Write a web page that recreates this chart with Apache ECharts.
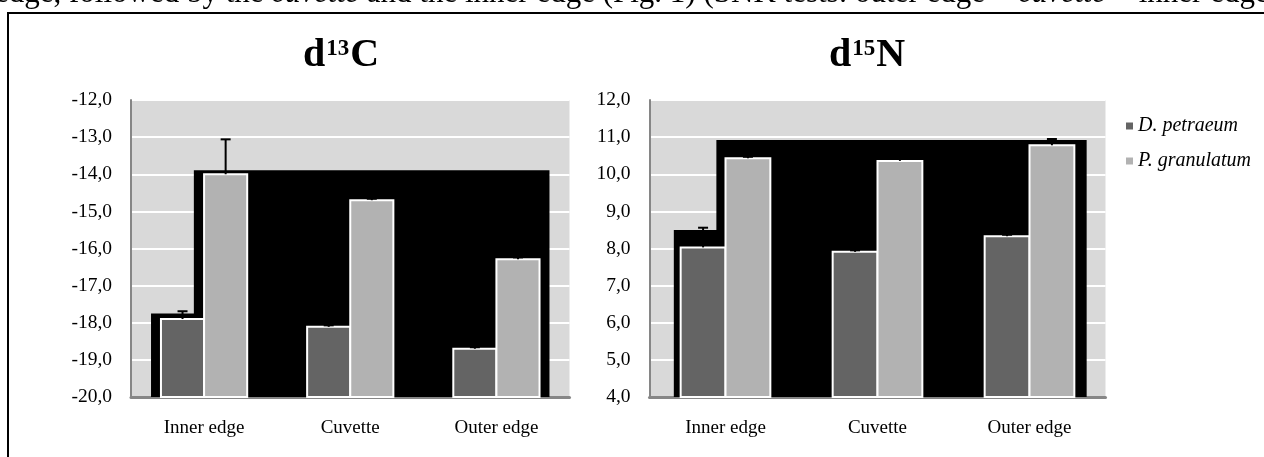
<!DOCTYPE html>
<html>
<head>
<meta charset="utf-8">
<script src="https://cdn.jsdelivr.net/npm/echarts@6/dist/echarts.min.js"></script>
<style>
  html, body { margin: 0; padding: 0; background: #ffffff; }
  #chart { width: 1264px; height: 457px; }
</style>
</head>
<body>
<div id="chart"></div>
<script>
// Sampling sites and species
const categories = ['Inner edge', 'Cuvette', 'Outer edge'];
const speciesNames = ['D. petraeum', 'P. granulatum'];

// d13C: means and upper error bars
const c13Petraeum = [-17.90, -18.11, -18.70];
const c13PetraeumErr = [0.21, 0.04, 0.04];
const c13Granulatum = [-14.00, -14.70, -16.29];
const c13GranulatumErr = [0.94, 0.04, 0.05];

// d15N: means and upper error bars
const n15Petraeum = [8.03, 7.91, 8.33];
const n15PetraeumErr = [0.53, 0.04, 0.04];
const n15Granulatum = [10.43, 10.36, 10.78];
const n15GranulatumErr = [0.04, 0.05, 0.17];

// Value axis ranges: [min, max, step]
const c13Axis = [-20, -12, 1];
const n15Axis = [4, 12, 1];

// Dark backdrop outline behind each bar block: [category position, value]
const c13Backdrop = [[-0.363, -17.75], [-0.07, -17.75], [-0.07, -13.89], [2.363, -13.89]];
const n15Backdrop = [[-0.34, 8.50], [-0.06, 8.50], [-0.06, 10.92], [2.376, 10.92]];

const SERIF = '"Liberation Serif", "Times New Roman", serif';
const DARK = '#646464';
const LIGHT = '#b2b2b2';
const BAR_SHARE = 0.295;

const fmt = v => v.toFixed(1).replace('.', ',');

function barSeries(name, means, errs, color, side, gridIndex) {
  return {
    type: 'custom',
    name: name,
    xAxisIndex: gridIndex * 2,
    yAxisIndex: gridIndex,
    itemStyle: { color: color },
    encode: { x: 0, y: 1 },
    z: 4,
    data: means.map((m, i) => [i, m, errs[i]]),
    renderItem: function (params, api) {
      const idx = api.value(0);
      const mean = api.value(1);
      const err = api.value(2);
      const top = api.coord([idx, mean]);
      const band = api.size([1, 0])[0];
      const w = band * BAR_SHARE;
      const x0 = side < 0 ? top[0] - w : top[0];
      const bottom = params.coordSys.y + params.coordSys.height;
      const errTop = api.coord([idx, mean + err])[1];
      const cx = x0 + w / 2;
      return {
        type: 'group',
        children: [
          { type: 'rect', shape: { x: x0, y: top[1], width: w, height: bottom - top[1] },
            style: { fill: color, stroke: '#ffffff', lineWidth: 2 } },
          { type: 'line', shape: { x1: cx, y1: top[1], x2: cx, y2: errTop },
            style: { stroke: '#000000', lineWidth: 2 } },
          { type: 'line', shape: { x1: cx - 5, y1: errTop, x2: cx + 5, y2: errTop },
            style: { stroke: '#000000', lineWidth: 2 } }
        ]
      };
    }
  };
}

function backdropSeries(points, gridIndex) {
  return {
    type: 'line',
    xAxisIndex: gridIndex * 2 + 1,
    yAxisIndex: gridIndex,
    data: points,
    symbol: 'none',
    silent: true,
    z: 1,
    lineStyle: { width: 0, color: '#000000' },
    areaStyle: { color: '#000000', opacity: 1, origin: 'start' }
  };
}

function valueAxis(range, gridIndex) {
  return {
    type: 'value',
    gridIndex: gridIndex,
    min: range[0],
    max: range[1],
    interval: range[2],
    axisLine: { show: true, onZero: false, lineStyle: { color: '#868686', width: 2 } },
    axisTick: { show: false },
    splitLine: { show: true, lineStyle: { color: '#ffffff', width: 2 } },
    axisLabel: {
      margin: 19,
      formatter: fmt,
      fontFamily: SERIF,
      fontSize: 19.5,
      color: '#000000'
    }
  };
}

function categoryAxis(gridIndex) {
  return {
    type: 'category',
    gridIndex: gridIndex,
    data: categories,
    axisLine: { show: true, onZero: false, lineStyle: { color: '#868686', width: 3 } },
    axisTick: { show: false },
    axisLabel: { margin: 22, fontFamily: SERIF, fontSize: 19, color: '#000000' }
  };
}

function positionAxis(gridIndex) {
  return {
    type: 'value',
    gridIndex: gridIndex,
    min: -0.5,
    max: 2.5,
    show: false,
    axisLine: { show: false, onZero: false }
  };
}

const titleRich = {
  b: { fontFamily: SERIF, fontWeight: 'bold', fontSize: 40, color: '#000000' },
  s: { fontFamily: SERIF, fontWeight: 'bold', fontSize: 23, color: '#000000', padding: [0, 1, 14, 1] }
};

const option = {
  animation: false,
  backgroundColor: '#ffffff',
  title: [
    { text: '{b|d}{s|13}{b|C}', left: 298, top: 31, textStyle: { rich: titleRich } },
    { text: '{b|d}{s|15}{b|N}', left: 824, top: 31, textStyle: { rich: titleRich } }
  ],
  legend: {
    orient: 'vertical',
    left: 1121,
    top: 111,
    itemWidth: 7,
    itemHeight: 7,
    itemGap: 15,
    data: speciesNames.map(n => ({ name: n, icon: 'rect' })),
    textStyle: { fontFamily: SERIF, fontStyle: 'italic', fontSize: 20, color: '#000000' }
  },
  grid: [
    { left: 131, right: 694.5, top: 100, bottom: 60, show: true, backgroundColor: '#d9d9d9', borderWidth: 0 },
    { left: 649.5, right: 158.5, top: 100, bottom: 60, show: true, backgroundColor: '#d9d9d9', borderWidth: 0 }
  ],
  xAxis: [categoryAxis(0), positionAxis(0), categoryAxis(1), positionAxis(1)],
  yAxis: [valueAxis(c13Axis, 0), valueAxis(n15Axis, 1)],
  series: [
    backdropSeries(c13Backdrop, 0),
    backdropSeries(n15Backdrop, 1),
    barSeries(speciesNames[0], c13Petraeum, c13PetraeumErr, DARK, -1, 0),
    barSeries(speciesNames[1], c13Granulatum, c13GranulatumErr, LIGHT, 1, 0),
    barSeries(speciesNames[0], n15Petraeum, n15PetraeumErr, DARK, -1, 1),
    barSeries(speciesNames[1], n15Granulatum, n15GranulatumErr, LIGHT, 1, 1)
  ],
  graphic: [
    {
      type: 'text', left: -5, top: -22, silent: true,
      style: {
        text: '{n|edge, followed by the }{i|cuvette}{n| and the inner edge (Fig. 1) (SNK tests: outer edge < }{i|cuvette}{n| < inner edge)}',
        rich: {
          n: { fontFamily: SERIF, fontSize: 31, fill: '#000000' },
          i: { fontFamily: SERIF, fontSize: 31, fontStyle: 'italic', fill: '#000000' }
        }
      }
    },
    {
      type: 'rect', silent: true, z: 100,
      shape: { x: 8, y: 13, width: 1300, height: 500 },
      style: { fill: 'none', stroke: '#000000', lineWidth: 2 }
    }
  ]
};

const chart = echarts.init(document.getElementById('chart'), null, { renderer: 'canvas' });
chart.setOption(option);
</script>
</body>
</html>
